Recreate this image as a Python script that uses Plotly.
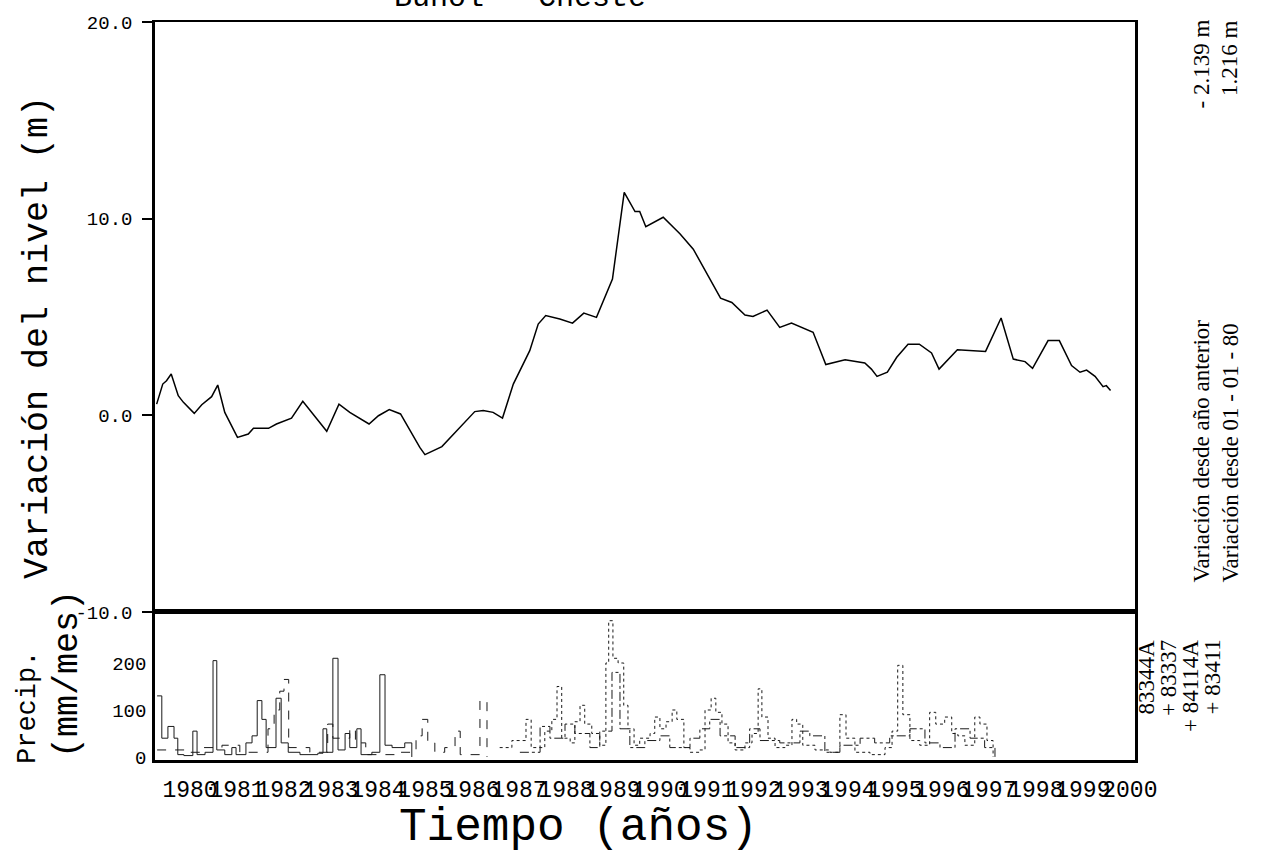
import plotly.graph_objects as go

# ---------------- data ----------------
# Water-level variation since 01-01-80 (m)
level_t = [1979.79, 1979.92, 1980.00, 1980.10, 1980.25, 1980.36, 1980.59, 1980.75, 1980.96, 1981.09,
           1981.24, 1981.51, 1981.74, 1981.85, 1982.17, 1982.34, 1982.66, 1982.90, 1983.41, 1983.67,
           1983.90, 1984.31, 1984.51, 1984.74, 1984.98, 1985.39, 1985.50, 1985.86, 1986.56, 1986.74,
           1986.95, 1987.15, 1987.38, 1987.73, 1987.91, 1988.07, 1988.37, 1988.64, 1988.88, 1989.15,
           1989.49, 1989.74, 1989.97, 1990.07, 1990.20, 1990.57, 1990.93, 1991.21, 1991.79, 1992.03,
           1992.31, 1992.48, 1992.78, 1993.05, 1993.30, 1993.76, 1993.90, 1994.03, 1994.44, 1994.86,
           1995.00, 1995.12, 1995.34, 1995.54, 1995.78, 1996.02, 1996.28, 1996.44, 1996.83, 1997.43,
           1997.76, 1998.02, 1998.27, 1998.43, 1998.76, 1999.00, 1999.26, 1999.44, 1999.58, 1999.76,
           1999.93, 2000.00, 2000.09]
level_m = [0.57, 1.59, 1.76, 2.10, 1.00, 0.66, 0.10, 0.54, 0.95, 1.54,
           0.15, -1.12, -0.95, -0.66, -0.66, -0.44, -0.14, 0.71, -0.81, 0.57,
           0.15, -0.44, -0.02, 0.29, 0.07, -1.63, -2.00, -1.59, 0.19, 0.24,
           0.15, -0.14, 1.59, 3.29, 4.64, 5.07, 4.90, 4.69, 5.20, 4.98,
           6.93, 11.34, 10.36, 10.36, 9.59, 10.07, 9.22, 8.45, 5.96, 5.74,
           5.10, 5.03, 5.35, 4.47, 4.69, 4.22, 3.37, 2.58, 2.83, 2.66,
           2.35, 1.98, 2.19, 2.95, 3.62, 3.62, 3.17, 2.35, 3.34, 3.25,
           4.95, 2.86, 2.73, 2.39, 3.80, 3.80, 2.53, 2.19, 2.30, 1.98,
           1.46, 1.51, 1.26]

# Monthly precipitation (mm/mes), step changes, per station
p83344A_t = [1979.80, 1979.90, 1980.03, 1980.16, 1980.24, 1980.37, 1980.56, 1980.65, 1980.82, 1980.99,
             1981.07, 1981.24, 1981.39, 1981.48, 1981.69, 1981.82, 1981.93, 1982.03, 1982.12, 1982.33,
             1982.44, 1982.59, 1982.84, 1983.22, 1983.33, 1983.41, 1983.54, 1983.65, 1983.80, 1983.90,
             1984.05, 1984.14, 1984.37, 1984.54, 1984.65, 1984.80, 1985.07, 1985.22]
p83344A = [130, 40, 65, 40, 5, 3, 55, 5, 10, 205,
           15, 5, 20, 5, 30, 45, 120, 80, 20, 125,
           30, 10, 5, 8, 60, 10, 210, 15, 50, 20,
           60, 5, 10, 175, 25, 20, 30, 0]

p83337_t = [1979.80, 1980.39, 1980.71, 1981.18, 1981.56, 1982.16, 1982.29, 1982.41, 1982.50, 1982.60,
            1983.05, 1983.43, 1983.54, 1983.90, 1984.02, 1984.24, 1984.97, 1985.31, 1985.44, 1985.56,
            1985.71, 1985.92, 1986.14, 1986.25, 1986.67, 1986.82]
p83337 = [15, 10, 20, 25, 10, 60, 100, 140, 165, 20,
          10, 70, 40, 60, 30, 5, 10, 45, 80, 30,
          10, 20, 55, 5, 120, 0]

p84114A_t = [1987.09, 1987.35, 1987.65, 1987.76, 1988.05, 1988.20, 1988.31, 1988.41, 1988.59, 1988.69,
             1988.80, 1988.90, 1989.05, 1989.22, 1989.35, 1989.41, 1989.50, 1989.61, 1989.73, 1989.82,
             1989.95, 1990.07, 1990.29, 1990.39, 1990.50, 1990.63, 1990.76, 1990.86, 1991.01, 1991.14,
             1991.35, 1991.46, 1991.59, 1991.69, 1991.82, 1991.95, 1992.10, 1992.31, 1992.46, 1992.59,
             1992.67, 1992.80, 1992.95, 1993.16, 1993.31, 1993.41, 1993.54, 1993.80, 1994.12, 1994.33,
             1994.46, 1994.65, 1994.97, 1995.29, 1995.44, 1995.56, 1995.67, 1995.82, 1996.03, 1996.24,
             1996.37, 1996.56, 1996.71, 1996.84, 1996.99, 1997.20, 1997.31, 1997.46, 1997.59]
p84114A = [20, 35, 80, 20, 55, 80, 150, 40, 30, 75,
           110, 70, 50, 25, 200, 290, 210, 200, 110, 60,
           25, 40, 50, 85, 60, 75, 100, 80, 20, 10,
           15, 100, 125, 95, 70, 30, 15, 30, 50, 145,
           85, 40, 20, 25, 80, 70, 25, 15, 10, 90,
           40, 10, 5, 20, 55, 195, 90, 35, 25, 95,
           70, 85, 50, 45, 25, 85, 70, 35, 0]

p83411_t = [1987.52, 1987.95, 1988.16, 1988.48, 1988.69, 1989.01, 1989.22, 1989.48, 1989.65, 1989.86,
            1990.18, 1990.50, 1990.71, 1991.14, 1991.35, 1991.56, 1991.78, 1992.10, 1992.41, 1992.63,
            1993.05, 1993.48, 1993.69, 1994.01, 1994.33, 1994.76, 1995.07, 1995.39, 1995.82, 1996.14,
            1996.46, 1996.78, 1997.10, 1997.41, 1997.63]
p83411 = [10, 65, 40, 70, 50, 20, 55, 180, 60, 20,
          35, 45, 20, 40, 60, 80, 45, 20, 60, 35,
          30, 55, 45, 10, 25, 40, 30, 45, 60, 30,
          20, 60, 40, 20, 0]

years = list(range(1980, 2001))
year_labels = [str(y) for y in years]
level_ticks = [-10, 0, 10, 20]
level_tick_text = ["-10.0", "0.0", "10.0", "20.0"]
precip_ticks = [0, 100, 200]
precip_tick_text = ["0", "100", "200"]

title_text = "Buñol - Cheste"
var_anual_label = "Variación desde año anterior"
var_anual_value = "- 2.139 m"
var_total_label = "Variación desde 01 - 01 - 80"
var_total_value = "1.216 m"
stations = ["83344A", "83337", "84114A", "83411"]

# ---------------- layout helpers (pixel -> paper) ----------------
W, H = 1266, 858
L, R, T, B = 155, 1135, 22, 760


def px(x):
    return (x - L) / (R - L)


def py(y):
    return (B - y) / (B - T)


split = py(612)
X_RANGE = [1979.755, 2000.61]

fig = go.Figure()

fig.add_trace(go.Scatter(x=level_t, y=level_m, mode="lines",
                         line=dict(color="black", width=1.5),
                         xaxis="x", yaxis="y", showlegend=False, hoverinfo="skip"))

series = [(p83344A_t, p83344A, "solid"), (p83337_t, p83337, "dash"),
          (p84114A_t, p84114A, "dot"), (p83411_t, p83411, "dashdot")]
for t, v, dash in series:
    fig.add_trace(go.Scatter(x=t, y=v, mode="lines",
                             line=dict(color="#1a1a1a", width=1.0, dash=dash, shape="hv"),
                             xaxis="x2", yaxis="y2", showlegend=False, hoverinfo="skip"))

mono = "Liberation Mono, Courier New, monospace"
serif = "Liberation Serif, Times New Roman, serif"

fig.update_layout(
    width=W, height=H,
    margin=dict(l=L, r=W - R, t=T, b=H - B, pad=0),
    paper_bgcolor="white", plot_bgcolor="white",
    font=dict(family=mono, color="black"),
    xaxis=dict(domain=[0, 1], anchor="y", range=X_RANGE, showticklabels=False,
               showline=True, mirror=True, linecolor="black", linewidth=2,
               showgrid=False, zeroline=False, ticks=""),
    yaxis=dict(domain=[split, 1], anchor="x", range=[-10, 20],
               tickvals=level_ticks, ticktext=level_tick_text,
               ticks="outside", ticklen=10, tickwidth=1.5, tickcolor="black",
               ticklabelstandoff=6,
               tickfont=dict(family=mono, size=19),
               showline=True, mirror=True, linecolor="black", linewidth=2.5,
               showgrid=False, zeroline=False),
    xaxis2=dict(domain=[0, 1], anchor="y2", range=X_RANGE,
                tickvals=[y + 0.5 for y in years], ticktext=year_labels, tickangle=0,
                tickfont=dict(family=mono, size=23), ticks="", ticklabelstandoff=6,
                showline=True, mirror=True, linecolor="black", linewidth=3,
                showgrid=False, zeroline=False),
    yaxis2=dict(domain=[0, split], anchor="x2", range=[-6.4, 308.5],
                tickvals=precip_ticks, ticktext=precip_tick_text,
                ticks="", ticklabelstandoff=2,
                tickfont=dict(family=mono, size=19),
                showline=True, mirror=True, linecolor="black", linewidth=2.5,
                showgrid=False, zeroline=False),
)

ann = []
# partially visible title at the very top (cut by the page edge, as in the original)
ann.append(dict(text=title_text, x=px(520), y=py(17), xref="paper", yref="paper",
                xanchor="center", yanchor="bottom", showarrow=False,
                font=dict(family=mono, size=30)))
# axis titles
ann.append(dict(text="Variación del nivel (m)", x=px(38), y=py(338), xref="paper", yref="paper",
                xanchor="center", yanchor="middle", textangle=-90, showarrow=False,
                font=dict(family=mono, size=35)))
ann.append(dict(text="Precip.", x=px(28), y=py(708), xref="paper", yref="paper",
                xanchor="center", yanchor="middle", textangle=-90, showarrow=False,
                font=dict(family=mono, size=27)))
ann.append(dict(text="(mm/mes)", x=px(68), y=py(674), xref="paper", yref="paper",
                xanchor="center", yanchor="middle", textangle=-90, showarrow=False,
                font=dict(family=mono, size=35)))
ann.append(dict(text="Tiempo (años)", x=px(578), y=py(828), xref="paper", yref="paper",
                xanchor="center", yanchor="middle", showarrow=False,
                font=dict(family=mono, size=46)))
# right-side statistics
ann.append(dict(text=var_anual_label, x=px(1201), y=py(585), xref="paper", yref="paper",
                xanchor="center", yanchor="bottom", textangle=-90, showarrow=False,
                font=dict(family=serif, size=23)))
ann.append(dict(text=var_anual_value, x=px(1201), y=py(18), xref="paper", yref="paper",
                xanchor="center", yanchor="top", textangle=-90, showarrow=False,
                font=dict(family=serif, size=23)))
ann.append(dict(text=var_total_label, x=px(1230), y=py(585), xref="paper", yref="paper",
                xanchor="center", yanchor="bottom", textangle=-90, showarrow=False,
                font=dict(family=serif, size=23)))
ann.append(dict(text=var_total_value, x=px(1230), y=py(18), xref="paper", yref="paper",
                xanchor="center", yanchor="top", textangle=-90, showarrow=False,
                font=dict(family=serif, size=23)))
# station legend
legend_x = [1146, 1168, 1190, 1212]
for i, (name, xp) in enumerate(zip(stations, legend_x)):
    label = name if i == 0 else "+ " + name
    ann.append(dict(text=label, x=px(xp), y=py(638), xref="paper", yref="paper",
                    xanchor="center", yanchor="top", textangle=-90, showarrow=False,
                    font=dict(family=serif, size=23)))

fig.update_layout(annotations=ann)

fig.write_html("out.html", config={"displayModeBar": False},
               post_script="document.body.style.margin='0px';")
